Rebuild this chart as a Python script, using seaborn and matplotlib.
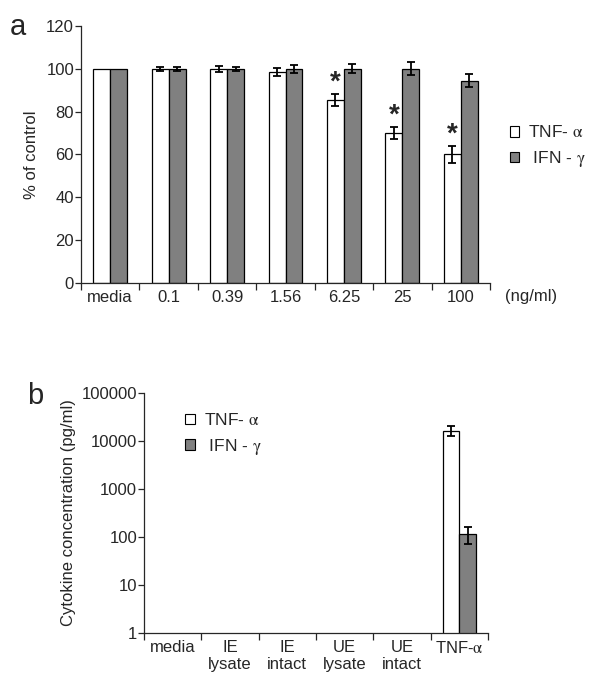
import matplotlib
matplotlib.use('Agg')
import numpy as np
import pandas as pd
import matplotlib.pyplot as plt
import matplotlib.transforms as mtransforms
import seaborn as sns

# panel a: viability (% of control) per concentration
conc_labels = ['media', '0.1', '0.39', '1.56', '6.25', '25', '100']
tnf_pct = [100, 100, 100, 98.5, 85.5, 70, 60]
tnf_pct_err = [np.nan, 1.0, 1.5, 1.8, 2.8, 3.0, 4.0]
ifn_pct = [100, 100, 100, 100, 100, 100, 94.5]
ifn_pct_err = [np.nan, 1.0, 1.0, 2.0, 2.1, 3.0, 3.2]
signif = [False, False, False, False, True, True, True]

# panel b: cytokine concentration per stimulus
stim_labels = ['media', 'IE\nlysate', 'IE\nintact', 'UE\nlysate', 'UE\nintact',
               r'TNF-$\mathrm{\alpha}$']
tnf_conc = [np.nan, np.nan, np.nan, np.nan, np.nan, 16400]
tnf_conc_err = [np.nan, np.nan, np.nan, np.nan, np.nan, 3800]
ifn_conc = [np.nan, np.nan, np.nan, np.nan, np.nan, 115]
ifn_conc_err = [np.nan, np.nan, np.nan, np.nan, np.nan, 45]

series = [r'TNF- $\mathrm{\alpha}$', r' IFN - $\mathrm{\gamma}$']
colors = {series[0]: 'white', series[1]: '#808080'}

FS = 12

sns.set_style('ticks')
plt.rcParams['font.family'] = ['Liberation Sans', 'DejaVu Sans']
plt.rcParams['font.size'] = FS
plt.rcParams['mathtext.fontset'] = 'stix'


def long_df(cats, a, b):
    return pd.DataFrame({
        'cat': cats * 2,
        'series': [series[0]] * len(cats) + [series[1]] * len(cats),
        'value': list(a) + list(b),
    })


def draw_bars(ax, cats, a, a_err, b, b_err):
    df = long_df(cats, a, b)
    sns.barplot(data=df, x='cat', y='value', hue='series', order=cats,
                hue_order=series, palette=colors, saturation=1, width=0.58,
                gap=0, errorbar=None, edgecolor='black', linewidth=0.9, ax=ax)
    bars = list(ax.containers)
    for cont, errs in zip(bars, [a_err, b_err]):
        xs = [p.get_x() + p.get_width() / 2 for p in cont]
        idx = [int(round(x)) for x in xs]
        ax.errorbar(xs, cont.datavalues, yerr=[errs[i] for i in idx],
                    fmt='none', ecolor='black', elinewidth=1.3, capsize=3,
                    capthick=1.3)
    handles, labels = ax.get_legend_handles_labels()
    ax.get_legend().remove()
    n = len(cats)
    ax.set_xlim(-0.5, n - 0.5)
    ax.set_xticks(np.arange(-0.5, n, 1))
    ax.set_xticklabels([])
    ax.set_xticks(np.arange(n), cats, minor=True)
    ax.tick_params(axis='x', which='major', length=5, width=0.9, direction='out')
    ax.tick_params(axis='x', which='minor', length=0, pad=5, labelsize=FS)
    ax.tick_params(axis='y', length=4, width=0.9, pad=1, labelsize=FS)
    ax.set_xlabel('')
    sns.despine(ax=ax)
    for s in ['left', 'bottom']:
        ax.spines[s].set_linewidth(0.9)
    return bars, handles, labels


fig = plt.figure(figsize=(6, 6.84), dpi=100)

# ---- panel a
ax1 = fig.add_axes([0.135, 0.5863, 0.6817, 0.3757])
bars1, h1, l1 = draw_bars(ax1, conc_labels, tnf_pct, tnf_pct_err, ifn_pct, ifn_pct_err)
ax1.set_ylim(0, 120)
ax1.set_yticks(range(0, 121, 20))
ax1.set_ylabel('% of control', fontsize=FS, labelpad=5)
for p, v, e, s in zip(bars1[0], tnf_pct, tnf_pct_err, signif):
    if s:
        ax1.text(p.get_x() + p.get_width() / 2, v + e - 1, '*', ha='center',
                 va='bottom', fontsize=20, fontweight='bold')
trans = mtransforms.blended_transform_factory(ax1.transData, ax1.transAxes)
ax1.text(7.2, -0.054, '(ng/ml)', transform=trans, ha='center', va='center',
         fontsize=FS)
for h in h1:
    h.set_linewidth(0.8)
ax1.legend(h1, l1, frameon=False, loc='center left', bbox_to_anchor=(1.01, 0.53),
           handlelength=0.55, handleheight=0.55, handletextpad=0.5,
           labelspacing=0.5, fontsize=12.5)
fig.text(0.017, 0.961, 'a', fontsize=21, va='center', ha='left')

# ---- panel b
ax2 = fig.add_axes([0.24, 0.0746, 0.5733, 0.3509])
ax2.set_yscale('log')
bars2, h2, l2 = draw_bars(ax2, stim_labels, tnf_conc, tnf_conc_err, ifn_conc, ifn_conc_err)
ax2.set_ylim(1, 100000)
yt = [1, 10, 100, 1000, 10000, 100000]
ax2.set_yticks(yt, [str(t) for t in yt])
ax2.yaxis.set_minor_locator(matplotlib.ticker.NullLocator())
ax2.set_ylabel('Cytokine concentration (pg/ml)', fontsize=FS, labelpad=4)
for h in h2:
    h.set_linewidth(0.8)
ax2.legend(h2, l2, frameon=False, loc='upper left', bbox_to_anchor=(0.075, 0.985),
           handlelength=0.55, handleheight=0.55, handletextpad=0.5,
           labelspacing=0.5, fontsize=12.5)
fig.text(0.045, 0.421, 'b', fontsize=21, va='center', ha='left')

fig.savefig('out.png', dpi=100)
